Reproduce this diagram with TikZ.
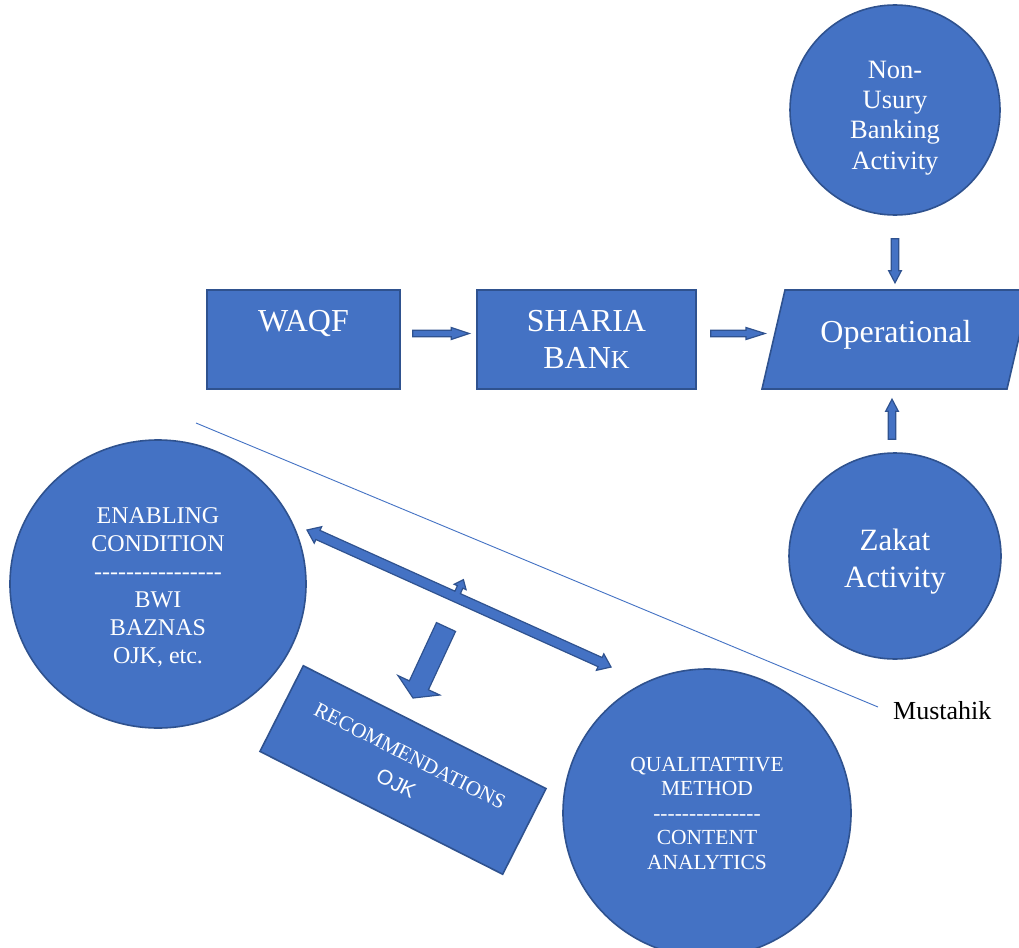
\documentclass[tikz,border=0pt]{standalone}
\usepackage{fontspec}
\setmainfont{Liberation Serif}
\newfontfamily\arialfont{Liberation Sans}
\usetikzlibrary{calc,shapes.geometric}
\definecolor{boxfill}{HTML}{4472C4}
\definecolor{boxedge}{HTML}{2F528F}
\newcommand{\dashes}[1]{\foreach \i in {1,...,#1}{-\kern0pt}}
% block arrow: from, to, half shaft, half head, head length
\newcommand{\blockarrow}[5]{%
  \coordinate (ba-h) at ($(#2)!#5!(#1)$);
  \filldraw[barrow] ($(#1)!#3!90:(#2)$) -- ($(ba-h)!#3!90:(#2)$) -- ($(ba-h)!#4!90:(#2)$)
    -- (#2) -- ($(ba-h)!#4!-90:(#2)$) -- ($(ba-h)!#3!-90:(#2)$) -- ($(#1)!#3!-90:(#2)$) -- cycle;}
\tikzset{
  shapebox/.style={draw=boxedge,fill=boxfill,line width=1.6pt,text=white,inner sep=0pt,align=center},
  intext/.style={text=white,inner sep=0pt,align=center},
  barrow/.style={draw=boxedge,fill=boxfill,line width=1.2pt,line join=miter},
  divider/.style={draw=boxfill,line width=0.9pt},
  bigfont/.style={font=\fontsize{32}{37}\selectfont},
}

\begin{document}
\begin{tikzpicture}[x=1pt,y=-1pt]
  \fill[white] (0,0) rectangle (1019,947);
  \useasboundingbox (0,0) rectangle (1019,947);
  % top row
  \node[shapebox,minimum width=193pt,minimum height=99pt] (waqf) at (303.5,339.5) {};
  \node[bigfont,intext] (waqftext) at ([yshift=16pt]waqf.center) {WAQF};
  \node[shapebox,bigfont,minimum width=219pt,minimum height=99pt] (bank) at (586.5,339.5)
    {SHARIA\\BAN{\fontsize{26}{26}\selectfont K}};
  \draw[shapebox] (785,290) -- (1030,290) -- (1007,389) -- (762,389) coordinate (opbl) -- cycle;
  \node[bigfont,intext] (oper) at (896,335) {Operational};
  % circles round operational
  \node[shapebox,circle,minimum size=210pt] (nu) at (895,110) {};
  \node[intext,font=\fontsize{26.5}{30.3}\selectfont] (nutext) at ([yshift=-8pt]nu.center)
    {Non-\\Usury\\Banking\\Activity};
  \node[shapebox,ellipse,minimum width=212pt,minimum height=206pt] (zak) at (895,556) {};
  \node[intext,font=\fontsize{31}{37}\selectfont] (zaktext) at ([yshift=-6pt]zak.center)
    {Zakat\\Activity};
  % lower part
  \node[shapebox,ellipse,minimum width=296pt,minimum height=288pt] (enab) at (158,584) {};
  \node[intext,font=\fontsize{24}{28}\selectfont] (enabtext) at ([yshift=-3pt]enab.center)
    {ENABLING\\CONDITION\\\dashes{16}\\BWI\\BAZNAS\\OJK, etc.};
  \node[shapebox,circle,minimum size=288pt,font=\fontsize{21.5}{24.5}\selectfont] (qual) at (707,813)
    {QUALITATTIVE\\METHOD\\\dashes{15}\\CONTENT\\ANALYTICS};
  \node[shapebox,rotate=-26.85,minimum width=272pt,minimum height=96pt,font=\fontsize{21}{31}\selectfont] (rec) at (403,770)
    {RECOMMENDATIONS\\{\arialfont OJK}};
  \node[anchor=west,inner sep=0pt,font=\fontsize{26}{30}\selectfont] (must) at (893,711) {Mustahik};
  \coordinate (lineA) at (196,423);
  \draw[divider] (lineA) -- ([xshift=-15pt,yshift=4pt]must.west);

  % arrows
  \coordinate (a1s) at ([xshift=12pt,yshift=6pt]waqf.east);
  \coordinate (a1e) at ([xshift=-7pt,yshift=6pt]bank.west);
  \coordinate (a2s) at ([xshift=14pt,yshift=6pt]bank.east);
  \coordinate (a2e) at ([xshift=3pt,yshift=55.5pt]opbl);
  \coordinate (a3s) at ([yshift=-23pt]nu.south);
  \coordinate (a3e) at ([yshift=-67pt]nu.south);
  \coordinate (a4s) at ([xshift=-3pt,yshift=13pt]zak.north);
  \coordinate (a4e) at ([xshift=-3pt,yshift=53pt]zak.north);
  \blockarrow{a1s}{a1e}{3.3pt}{6pt}{18pt}
  \blockarrow{a2s}{a2e}{3.3pt}{6pt}{19pt}
  \blockarrow{a3s}{a3e}{3.8pt}{6.3pt}{12pt}
  \blockarrow{a4s}{a4e}{3.8pt}{6.3pt}{12pt}
  \coordinate (bigs) at (446,627);
  \coordinate (bige) at (413,698);
  \blockarrow{bigs}{bige}{10.5pt}{23pt}{14pt}
  % left-right-up arrow
  \coordinate (dl) at (307,530);
  \begin{scope}[shift={(dl)},rotate=-24.26]
    \filldraw[barrow] (0,0) -- (12,-9) -- (12,-5) -- (160,-5) -- (160,-11) -- (156.5,-11)
      -- (163,-19) -- (169.5,-11) -- (166,-11) -- (166,-5) -- (321.5,-5) -- (321.5,-9)
      -- (333.5,0) -- (321.5,9) -- (321.5,5) -- (12,5) -- (12,9) -- cycle;
  \end{scope}
\end{tikzpicture}
\end{document}
